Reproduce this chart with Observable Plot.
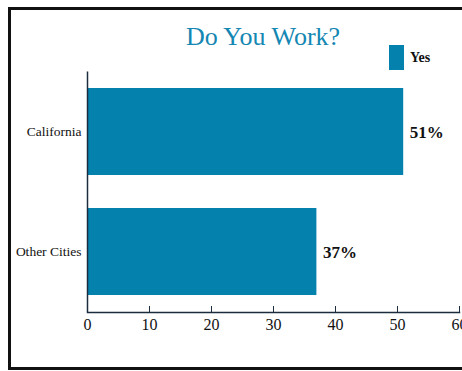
<!DOCTYPE html>
<html>
<head>
<meta charset="utf-8">
<script src="https://cdn.jsdelivr.net/npm/d3@7"></script>
<script src="https://cdn.jsdelivr.net/npm/@observablehq/plot@0.6"></script>
<style>
  html, body { margin: 0; padding: 0; background: #fff; overflow: hidden; }
  #wrap { position: relative; width: 462px; height: 371px; overflow: hidden; font-family: "Liberation Serif", serif; }
  #border { position: absolute; left: 8px; top: 7px; width: 480px; height: 357px; border: 3px solid #111; }
  #title { position: absolute; left: 0; top: 22px; width: 526px; text-align: center; font-size: 26px; color: #1487b3; }
  #legend { position: absolute; left: 389px; top: 45px; display: flex; align-items: center; }
  #legend .sw { width: 15px; height: 25px; background: #0581ae; }
  #legend .lb { margin-left: 6px; font-size: 14px; font-weight: bold; color: #111; }
  #chart { position: absolute; left: 0; top: 0; }
</style>
</head>
<body>
<div id="wrap">
  <div id="border"></div>
  <div id="chart"></div>
  <div id="title">Do You Work?</div>
  <div id="legend"><div class="sw"></div><div class="lb">Yes</div></div>
</div>
<script>
const categories = ["California", "Other Cities"];
const yesValues = [51, 37];
const xTicks = [0, 10, 20, 30, 40, 50, 60];
const seriesName = "Yes";

const data = categories.map((c, i) => ({category: c, value: yesValues[i], series: seriesName}));

const chart = Plot.plot({
  width: 462,
  height: 371,
  marginLeft: 87,
  marginRight: 3,
  marginTop: 71.5,
  marginBottom: 59,
  style: {background: "transparent", fontFamily: "Liberation Serif, serif", color: "#111"},
  x: {domain: [0, 60], ticks: xTicks},
  y: {domain: categories, paddingInner: 0.275, paddingOuter: 0.1375},
  marks: [
    Plot.barX(data, {x: "value", y: "category", fill: "#0581ae"}),
    Plot.text(data, {x: "value", y: "category", text: d => d.value + "%", textAnchor: "start", dx: 6, dy: 1, fontSize: 17, fontWeight: "bold", fill: "#111"}),
    Plot.ruleX([0], {stroke: "#1b2d3c", strokeWidth: 1.5}),
    Plot.frame({anchor: "bottom", stroke: "#1b2d3c", strokeWidth: 1.5}),
    Plot.axisX({ticks: xTicks, tickSize: -6, tickPadding: 12, fontSize: 16, label: null, stroke: "#1b2d3c", fill: "#111"}),
    Plot.axisY({tickSize: 0, tickPadding: 6, fontSize: 13.5, label: null, fill: "#111"})
  ]
});
document.getElementById("chart").appendChild(chart);
</script>
</body>
</html>
